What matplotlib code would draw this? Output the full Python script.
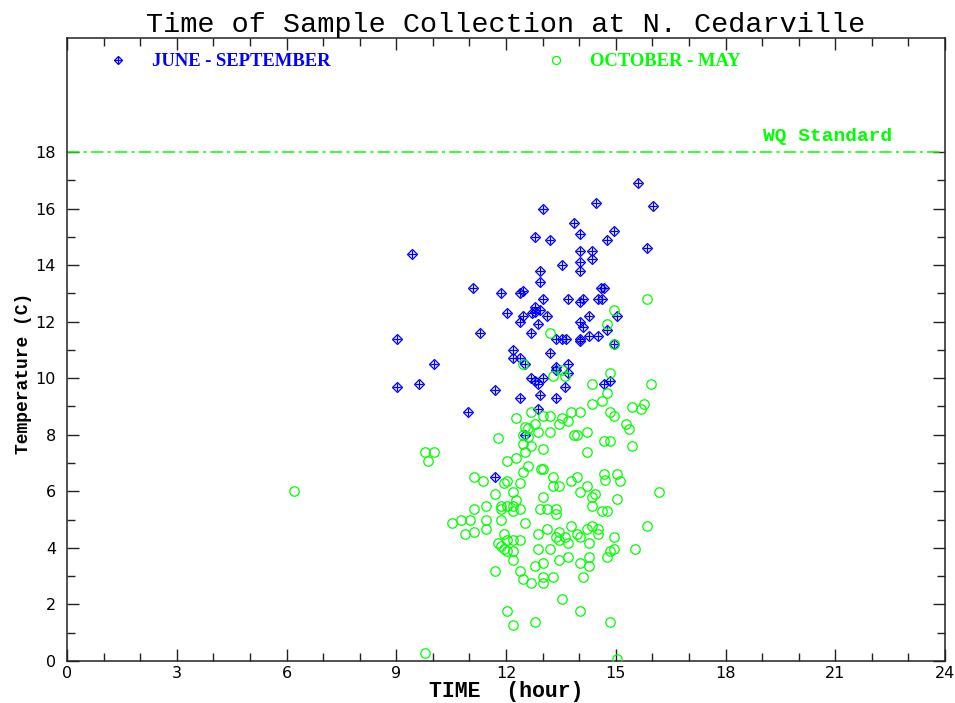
"""Time of sample collection vs water temperature, N. Cedarville."""
import matplotlib
matplotlib.use("Agg")
import matplotlib.pyplot as plt
from matplotlib.ticker import MultipleLocator, FixedLocator

plt.rcParams["lines.scale_dashes"] = False

title = "Time of Sample Collection at N. Cedarville"
summer_label = "JUNE - SEPTEMBER"
winter_label = "OCTOBER - MAY"
wq_standard = 18.0

# June - September samples (hour of day, temperature C)
summer_hour = [15.60, 16.03, 14.45, 13.02, 13.85, 14.02, 14.94, 14.77, 12.78, 13.20,
               15.86, 14.02, 14.35, 14.35, 14.02, 9.44, 13.52, 14.02, 12.94, 12.94,
               11.11, 11.86, 12.37, 12.45, 14.60, 14.69, 13.02, 13.70, 14.02, 14.11,
               14.52, 14.62, 12.78, 12.78, 12.70, 12.94, 12.03, 12.45, 13.11, 12.37,
               12.86, 14.28, 14.02, 14.11, 15.03, 14.77, 11.28, 12.69, 13.36, 13.54,
               13.63, 14.02, 14.02, 14.28, 14.52, 14.94, 9.03, 13.20, 12.19, 12.19,
               12.37, 12.53, 10.03, 13.36, 13.36, 13.70, 13.70, 12.69, 12.78, 12.86,
               13.02, 14.69, 14.85, 13.61, 9.03, 9.62, 11.69, 12.37, 12.94, 13.36,
               10.95, 12.86, 12.53, 11.69]
summer_temp = [16.9, 16.1, 16.2, 16.0, 15.5, 15.1, 15.2, 14.9, 15.0, 14.9,
               14.6, 14.5, 14.5, 14.2, 14.1, 14.4, 14.0, 13.8, 13.8, 13.4,
               13.2, 13.0, 13.0, 13.1, 13.2, 13.2, 12.8, 12.8, 12.7, 12.8,
               12.8, 12.8, 12.5, 12.35, 12.3, 12.4, 12.3, 12.2, 12.2, 12.0,
               11.9, 12.2, 12.0, 11.8, 12.2, 11.7, 11.6, 11.6, 11.4, 11.4,
               11.4, 11.4, 11.3, 11.5, 11.5, 11.2, 11.4, 10.9, 11.0, 10.7,
               10.7, 10.5, 10.5, 10.4, 10.3, 10.5, 10.2, 10.0, 9.9, 9.8,
               10.0, 9.8, 9.9, 9.7, 9.7, 9.8, 9.6, 9.3, 9.4, 9.3,
               8.8, 8.9, 8.0, 6.5]

# October - May samples
winter_hour = [6.21, 9.78, 16.19, 15.95, 15.86, 14.94, 14.77, 13.20, 14.94, 12.45,
               13.52, 13.28, 13.61, 14.85, 14.36, 14.77, 14.61, 14.36, 15.45, 15.78,
               15.70, 12.69, 13.02, 13.20, 12.27, 13.52, 13.78, 14.02, 14.85, 14.94,
               13.44, 13.70, 12.78, 12.61, 12.53, 13.20, 12.86, 12.61, 12.45, 11.77,
               13.86, 13.94, 14.20, 15.27, 15.35, 14.69, 14.85, 15.45, 12.45, 12.69,
               13.02, 12.53, 14.20, 9.78, 10.03, 9.87, 12.27, 12.03, 12.61, 12.45,
               12.95, 13.02, 13.28, 13.94, 14.69, 15.03, 13.78, 14.70, 15.11, 11.12,
               11.36, 12.03, 11.95, 12.37, 13.28, 13.44, 14.20, 11.69, 12.19, 13.02,
               14.02, 14.36, 14.44, 15.03, 12.27, 11.12, 11.45, 11.86, 11.86, 12.03,
               12.19, 12.19, 12.37, 12.94, 13.11, 13.36, 13.36, 14.35, 14.61, 14.77,
               10.53, 10.78, 11.02, 11.45, 11.45, 11.86, 12.53, 10.87, 11.12, 11.95,
               12.86, 13.11, 13.44, 13.36, 13.44, 13.61, 13.78, 13.70, 13.94, 14.02,
               14.20, 14.36, 14.52, 14.52, 14.28, 14.94, 15.86, 11.77, 11.86, 11.95,
               12.03, 12.03, 12.19, 12.37, 12.19, 12.19, 12.86, 13.20, 13.44, 13.70,
               14.02, 14.28, 14.28, 14.77, 14.85, 14.94, 15.53, 13.02, 12.78, 11.69,
               12.37, 12.45, 12.69, 13.02, 13.02, 13.28, 14.11, 13.52, 12.03, 14.02,
               12.20, 12.78, 14.85, 15.03]
winter_temp = [6.0, 0.27, 5.99, 9.79, 12.8, 12.4, 11.92, 11.6, 11.2, 10.49,
               10.3, 10.09, 10.09, 10.19, 9.79, 9.49, 9.21, 9.09, 8.98, 9.10,
               8.90, 8.79, 8.67, 8.67, 8.59, 8.59, 8.79, 8.79, 8.79, 8.67,
               8.38, 8.49, 8.38, 8.25, 8.29, 8.09, 8.09, 7.92, 7.98, 7.89,
               7.99, 7.99, 8.09, 8.39, 8.19, 7.79, 7.79, 7.59, 7.68, 7.59,
               7.49, 7.38, 7.38, 7.38, 7.38, 7.08, 7.19, 7.08, 6.90, 6.68,
               6.79, 6.79, 6.50, 6.50, 6.61, 6.61, 6.38, 6.40, 6.38, 6.50,
               6.38, 6.38, 6.28, 6.28, 6.20, 6.20, 6.20, 5.89, 5.99, 5.81,
               5.99, 5.81, 5.89, 5.73, 5.69, 5.39, 5.49, 5.49, 5.39, 5.49,
               5.29, 5.49, 5.39, 5.39, 5.39, 5.39, 5.19, 5.49, 5.29, 5.29,
               4.88, 4.97, 4.97, 4.97, 4.68, 4.97, 4.88, 4.48, 4.57, 4.48,
               4.48, 4.68, 4.57, 4.37, 4.28, 4.37, 4.78, 4.17, 4.48, 4.37,
               4.68, 4.78, 4.68, 4.48, 4.17, 4.37, 4.78, 4.17, 4.08, 3.97,
               3.88, 4.28, 4.28, 4.28, 3.88, 3.57, 3.97, 3.97, 3.57, 3.68,
               3.48, 3.68, 3.37, 3.68, 3.88, 3.97, 3.97, 3.48, 3.37, 3.17,
               3.17, 2.89, 2.77, 2.97, 2.77, 2.97, 2.97, 2.18, 1.78, 1.78,
               1.27, 1.37, 1.37, 0.06]

BLUE = "#0000ff"
GREEN = "#00ff00"
mono = "Liberation Mono"

fig = plt.figure(figsize=(9.55, 7.03), dpi=100)
ax = fig.add_axes([0.0702, 0.0597, 0.9194, 0.8863])

# summer: diamond with a cross inside
d1, = ax.plot(summer_hour, summer_temp, ls="none", marker="D", ms=4.6,
              mfc="none", mec=BLUE, mew=0.9, zorder=3)
d2, = ax.plot(summer_hour, summer_temp, ls="none", marker="+", ms=6.4,
              mec=BLUE, mew=0.9, zorder=3)
w1, = ax.plot(winter_hour, winter_temp, ls="none", marker="o", ms=6.8,
              mfc="none", mec=GREEN, mew=0.9, zorder=4)

# water quality standard
ax.axhline(wq_standard, color=GREEN, lw=1.1, dashes=[9, 3, 2.2, 3], zorder=2)
ax.text(22.55, wq_standard + 0.25, "WQ Standard", color=GREEN, ha="right",
        va="bottom", family=mono, fontweight="bold", fontsize=14)

ax.set_xlim(0, 24)
ax.set_ylim(0, 22.03)
ax.xaxis.set_major_locator(MultipleLocator(3))
ax.xaxis.set_minor_locator(MultipleLocator(1))
ax.yaxis.set_major_locator(FixedLocator(range(0, 19, 2)))
ax.yaxis.set_minor_locator(FixedLocator(range(1, 18, 2)))
ax.tick_params(which="both", direction="in", top=True, right=True,
               color="#222222", width=1.0, labelsize=11.5)
ax.tick_params(which="major", length=8.6)
ax.tick_params(which="minor", length=5.8)
ax.tick_params(axis="x", pad=3.5)
ax.tick_params(axis="y", pad=8)
for s in ax.spines.values():
    s.set_linewidth(1.1)
    s.set_color("#222222")

ax.set_xlabel("TIME  (hour)", family=mono, fontweight="bold", fontsize=15.5)
ax.xaxis.set_label_coords(0.5, -0.0578)
ax.xaxis.label.set_va("baseline")
ax.set_ylabel("Temperature (C)", family=mono, fontweight="bold", fontsize=13)
ax.yaxis.set_label_coords(-0.0501, 0.4623)
ax.yaxis.label.set_va("center")

ax.set_title(title, family=mono, fontsize=20.5, y=1.0096, va="baseline", pad=0)

# two-entry legend along the top
leg_font = {"family": "Liberation Serif", "weight": "bold", "size": 13.4}
leg1 = ax.legend([(d1, d2)], [summer_label], loc="center left",
                 bbox_to_anchor=(0.0478, 0.9615), frameon=False, prop=leg_font,
                 handlelength=1.0, handletextpad=1.3, borderpad=0,
                 borderaxespad=0, markerscale=0.8)
for t in leg1.get_texts():
    t.set_color(BLUE)
ax.add_artist(leg1)
leg2 = ax.legend([w1], [winter_label], loc="center left",
                 bbox_to_anchor=(0.5467, 0.9615), frameon=False, prop=leg_font,
                 handlelength=1.0, handletextpad=1.3, borderpad=0,
                 borderaxespad=0, markerscale=0.85)
for t in leg2.get_texts():
    t.set_color(GREEN)

fig.savefig("out.png", dpi=100)
